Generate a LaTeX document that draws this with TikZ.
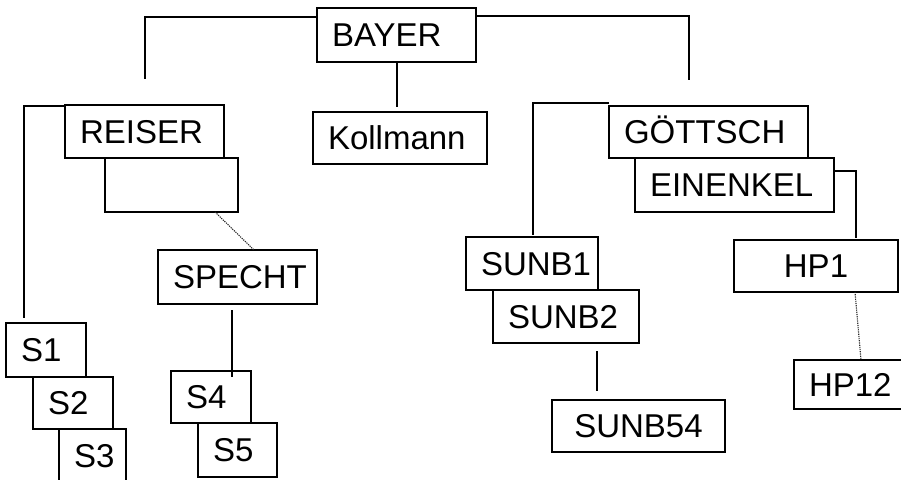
\documentclass[tikz,border=0pt]{standalone}
\usepackage{fontspec}
\setmainfont{Liberation Sans}
\begin{document}
\begin{tikzpicture}[x=1pt,y=-1pt,
  bx/.style={draw, line width=1.2pt, fill=white, rectangle, anchor=north west, outer sep=0pt,
    inner xsep=15pt, inner ysep=0pt, align=left, text height=23.6pt, text depth=0pt,
    font=\fontsize{33}{39}\selectfont},
  cbx/.style={bx, align=center},
  link/.style={line width=1.1pt},
  dotlink/.style={line width=1.1pt, dash pattern=on 1.2pt off 1pt, black!85}]
\useasboundingbox (0,0) rectangle (901,479);
\clip (0,0) rectangle (901,479);

\node[bx, text width=129pt, minimum height=54pt] (bayer) at (317,8) {BAYER};
\node[bx, text width=144pt, minimum height=52pt] (koll) at (313,112) {Kollmann};
\node[bx, text width=129pt, minimum height=53pt] (reiser) at (65,105) {REISER};
\node[bx, text width=103pt, minimum height=54pt] (blank) at (105,158) {};
\node[bx, text width=129pt, minimum height=54pt] (specht) at (158,250) {SPECHT};
\node[bx, text width=50pt, minimum height=54pt] (s1) at (6,323) {S1};
\node[bx, text width=50pt, minimum height=52pt] (s2) at (33,377) {S2};
\node[bx, text width=37pt, minimum height=53pt] (s3) at (59,429) {S3};
\node[bx, text width=50pt, minimum height=52pt] (s4) at (171,371) {S4};
\node[bx, text width=49pt, minimum height=54pt] (s5) at (198,423) {S5};
\node[bx, text width=169pt, minimum height=52pt] (goett) at (609,106) {GÖTTSCH};
\node[bx, text width=169pt, minimum height=54pt] (einen) at (635,158) {EINENKEL};
\node[cbx, text width=134pt, minimum height=52pt] (hp1) at (734,240) {HP1};
\node[bx, text width=91pt, minimum height=49pt] (hp12) at (794,360) {HP12};
\node[bx, text width=102pt, minimum height=53pt] (sunb1) at (466,237) {SUNB1};
\node[bx, text width=116pt, minimum height=53pt] (sunb2) at (493,290) {SUNB2};
\node[cbx, text width=143pt, minimum height=52pt] (sunb54) at (552,400) {SUNB54};

\coordinate (bL) at (145,79);
\coordinate (bR) at (689,80);
\coordinate (kT) at (397,107);
\coordinate (rL) at (24,318);
\coordinate (gL) at (533,235);
\coordinate (eH) at (856,238);

\draw[link] ([yshift=-9pt]bayer.north west) -| (bL);
\draw[link] ([yshift=-8pt]bayer.north east) -| (bR);
\draw[link] (bayer.south -| kT) -- (kT);
\draw[link] ([yshift=-1pt]reiser.north west) -| (rL);
\draw[dotlink] ([xshift=-23pt]blank.south east) -- ([xshift=96pt]specht.north west);
\draw[link] ([xshift=74pt,yshift=-6pt]specht.south west) -- ([xshift=61pt,yshift=-6pt]s4.north west);
\draw[link] ([yshift=3pt]goett.north west) -| (gL);
\draw[link] ([yshift=-13pt]einen.north east) -| (eH);
\draw[dotlink] ([xshift=121pt]hp1.south west) -- ([xshift=67pt]hp12.north west);
\draw[link] ([xshift=104pt,yshift=-8pt]sunb2.south west) -- ([xshift=45pt,yshift=9pt]sunb54.north west);
\end{tikzpicture}
\end{document}
